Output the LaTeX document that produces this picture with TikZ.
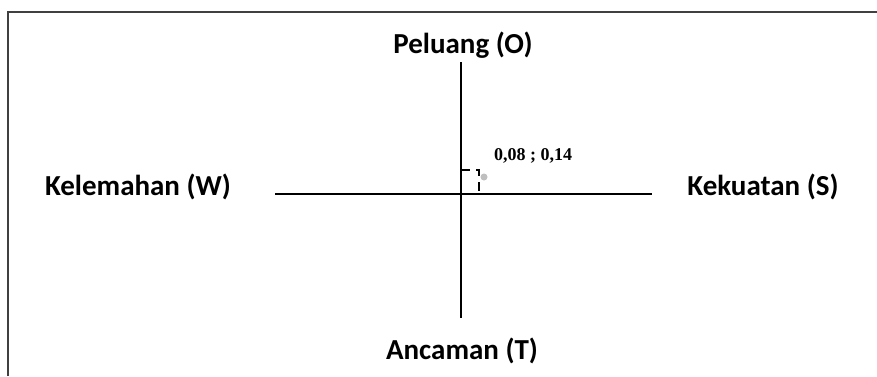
\documentclass[tikz,border=0pt]{standalone}
\usepackage{fontspec}
\setmainfont{Carlito}
\newfontfamily\pointfont{Liberation Serif}
\usepackage{tikz}
\usetikzlibrary{positioning, calc}

\begin{document}
\begin{tikzpicture}[
    x=1pt, y=-1pt,
    axis line/.style={black, line width=2.8pt},
    frame line/.style={black!75, line width=1.8pt},
    quad label/.style={font=\fontsize{29}{34}\selectfont\bfseries, inner sep=0pt},
    guide line/.style={black, line width=1.2pt, dash pattern=on 9pt off 6pt}
]

\useasboundingbox (0,0) rectangle (877,376);

% --- 1. Frame (cut at right and bottom) ---
\draw[frame line] (8,376) -- (8,12) -- (877,12);

% --- 2. Axes ---
\coordinate (axTop) at (461,62);
\coordinate (axBot) at (461,318);
\coordinate (axLeft) at (275,194);
\coordinate (axRight) at (652,194);

\draw[axis line] (axTop) -- (axBot);
\draw[axis line] (axLeft) -- (axRight);

% --- 3. Quadrant labels ---
\node[quad label] (peluang) at (463,45) {Peluang (O)};
\node[quad label] (ancaman) at (462,351) {Ancaman (T)};
\node[quad label] (kelemahan) at (138,187) {Kelemahan (W)};
\node[quad label] (kekuatan) at (763,187) {Kekuatan (S)};

% --- 4. Position point ---
\coordinate (pH) at (461,170);
\coordinate (pC) at (479,170);
\coordinate (pV) at (479,194);
\draw[guide line] (pH) -- (pC) -- (pV);
\node[circle, fill=black!25, inner sep=0pt, minimum size=7pt] (titik) at (484,177) {};
\node[font=\pointfont\fontsize{18}{21}\selectfont\bfseries, inner sep=0pt] (nilai) at (533,156) {0,08 ; 0,14};

\end{tikzpicture}
\end{document}
